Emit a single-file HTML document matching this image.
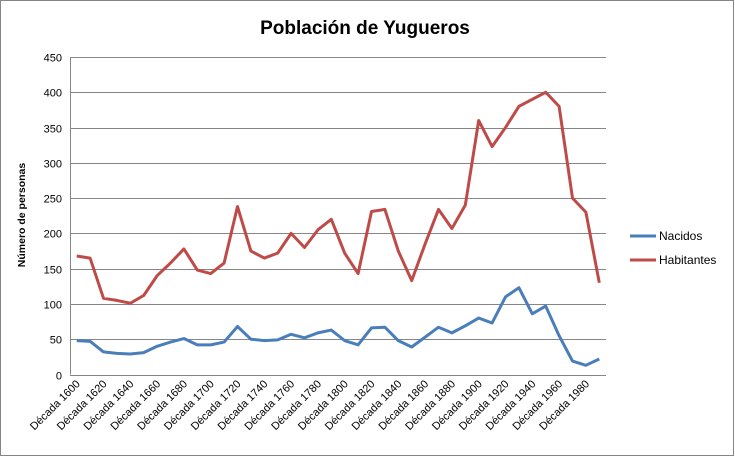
<!DOCTYPE html>
<html><head><meta charset="utf-8"><style>body{margin:0;background:#fff}</style></head><body>
<svg width="735" height="457" xmlns="http://www.w3.org/2000/svg" font-family="Liberation Sans, sans-serif">
<rect x="0.5" y="0.5" width="733" height="455" fill="#fff" stroke="#868686"/>
<text x="365" y="34" text-anchor="middle" font-size="19" font-weight="bold">Población de Yugueros</text>
<g id="grid" stroke="#868686" stroke-width="1"></g>
<g id="lbl" font-size="11" fill="#000"></g>
<text transform="translate(25,215) rotate(-90)" text-anchor="middle" font-size="10.5" font-weight="bold">Número de personas</text>
<polyline id="hab" fill="none" stroke="#BE4B48" stroke-width="3" stroke-linejoin="round"/>
<polyline id="nac" fill="none" stroke="#4A7EBB" stroke-width="3" stroke-linejoin="round"/>
<line x1="630" y1="236" x2="656" y2="236" stroke="#4A7EBB" stroke-width="3"/>
<text x="659" y="240" font-size="12">Nacidos</text>
<line x1="630" y1="260" x2="656" y2="260" stroke="#BE4B48" stroke-width="3"/>
<text x="659" y="264" font-size="12">Habitantes</text>
</svg>
<script>
var H=[168,165,108,105,101,112,140,158,178,148,143,158,238,175,165,172,200,180,205,220,172,143,231,234,175,133,185,234,207,240,360,323,350,380,390,400,380,250,230,130];
var N=[48,47,32,30,29,31,40,46,51,42,42,46,68,50,48,49,57,52,59,63,48,42,66,67,48,39,53,67,59,69,80,73,110,123,86,97,55,19,13,22];
var L=70,R=606,T=57,B=374.5,ns="http://www.w3.org/2000/svg";
function y(v){return B-(B-T)*v/450}function x(i){return L+(R-L)/40*(i+0.5)}
var g=document.getElementById('grid'),lb=document.getElementById('lbl');
function el(t,a,p){var e=document.createElementNS(ns,t);for(var k in a)e.setAttribute(k,a[k]);p.appendChild(e);return e}
for(var v=0;v<=450;v+=50){var yy=Math.round(y(v))+0.5;el('line',{x1:L,x2:R,y1:yy,y2:yy},g);var t=el('text',{x:L-8,y:yy+4,'text-anchor':'end'},lb);t.textContent=v;}
el('line',{x1:L+0.5,x2:L+0.5,y1:T,y2:B},g);
for(var i=0;i<40;i+=2){var t=el('text',{'text-anchor':'end',transform:'translate('+(x(i)+4)+','+(B+10)+') rotate(-45)'},lb);t.textContent='Década '+(1600+i*10);}
document.getElementById('hab').setAttribute('points',H.map(function(v,i){return x(i)+','+y(v)}).join(' '));
document.getElementById('nac').setAttribute('points',N.map(function(v,i){return x(i)+','+y(v)}).join(' '));
</script>
</body></html>
